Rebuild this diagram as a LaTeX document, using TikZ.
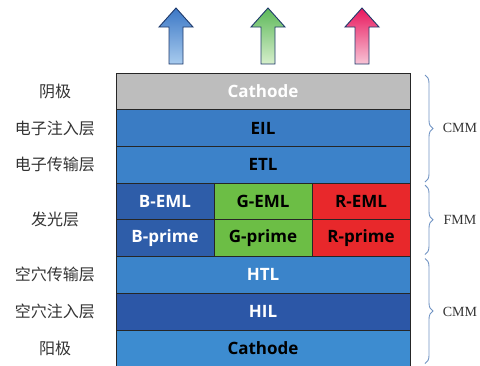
\documentclass[tikz,border=0pt]{standalone}
\usepackage{fontspec}
\setsansfont{Open Sans}
\setmainfont{Liberation Serif}
\newfontfamily\cjk{Noto Sans CJK SC}
\usepackage{xcolor}
\usetikzlibrary{positioning}
\usetikzlibrary{decorations.pathreplacing}

\definecolor{cathgray}{HTML}{BDBDBD}
\definecolor{eilblue}{HTML}{3A7CC4}
\definecolor{etlblue}{HTML}{3C82C9}
\definecolor{bblue}{HTML}{2E5DA9}
\definecolor{ggreen}{HTML}{6CBE45}
\definecolor{rred}{HTML}{E8282B}
\definecolor{htlblue}{HTML}{3B84CA}
\definecolor{hilblue}{HTML}{2C57A7}
\definecolor{anodeblue}{HTML}{3D8CD0}
\definecolor{bracecol}{HTML}{7093C3}
\definecolor{arrowedge}{HTML}{1F3A6B}
\definecolor{btop}{HTML}{3C78C6}
\definecolor{bbot}{HTML}{A8CBEE}
\definecolor{gtop}{HTML}{5DB85A}
\definecolor{gbot}{HTML}{D6EFCB}
\definecolor{rtop}{HTML}{E8175D}
\definecolor{rbot}{HTML}{F8C4D6}

\begin{document}
\begin{tikzpicture}[x=1pt,y=-1pt,node distance=0pt]
 	\tikzstyle{layer}=[draw=black!85, line width=.8pt, outer sep=0pt, inner sep=0pt,
 	   minimum width=294pt, minimum height=36.7pt,
 	   font=\sffamily\bfseries\fontsize{17}{17}\selectfont]
 	\tikzstyle{cell}=[layer, minimum width=98pt]
 	\tikzstyle{zh}=[text=black!80, font=\cjk\fontsize{16}{16}\selectfont]
 	\tikzstyle{tag}=[text=black!80, font=\rmfamily\fontsize{14}{14}\selectfont]
 	\tikzstyle{brace}=[draw=bracecol, line width=.9pt, decorate, decoration={brace, amplitude=8pt}]
 	\useasboundingbox (0,0) rectangle (480,365);

 	% layer stack
 	\node[layer, fill=cathgray, text=white] (cath) at (263,91.35) {Cathode};
 	\node[layer, fill=eilblue]  (eil) [below=of cath] {EIL};
 	\node[layer, fill=etlblue]  (etl) [below=of eil] {ETL};
 	\node[cell, fill=ggreen]    (geml) [below=of etl] {G-EML};
 	\node[cell, fill=bblue, text=white] (beml) [left=of geml] {B-EML};
 	\node[cell, fill=rred]      (reml) [right=of geml] {R-EML};
 	\node[cell, fill=ggreen]    (gprime) [below=of geml] {G-prime};
 	\node[cell, fill=bblue, text=white] (bprime) [left=of gprime] {B-prime};
 	\node[cell, fill=rred]      (rprime) [right=of gprime] {R-prime};
 	\node[layer, fill=htlblue, text=white] (htl) [below=of gprime] {HTL};
 	\node[layer, fill=hilblue, text=white] (hil) [below=of htl] {HIL};
 	\node[layer, fill=anodeblue] (anode) [below=of hil] {Cathode};

 	% emitted light
 	\foreach \x/\ct/\cb in {176/btop/bbot, 268/gtop/gbot, 362/rtop/rbot}{
 	  \shade[draw=arrowedge, line width=.9pt, line join=miter, top color=\ct, bottom color=\cb]
 	    (\x,8) -- (\x+17,27) -- (\x+7,27) -- (\x+7,64) -- (\x-7,64) -- (\x-7,27) -- (\x-17,27) -- cycle;
 	}

 	% chinese labels
 	\coordinate (lx) at (55,0);
 	\node[zh] (l1) at (lx |- cath) {阴极};
 	\node[zh] (l2) at (lx |- eil) {电子注入层};
 	\node[zh] (l3) at (lx |- etl) {电子传输层};
 	\node[zh] (l4) at (lx |- geml.south) {发光层};
 	\node[zh] (l5) at (lx |- htl) {空穴传输层};
 	\node[zh] (l6) at (lx |- hil) {空穴注入层};
 	\node[zh] (l7) at (lx |- anode) {阳极};

 	% braces
 	\draw[brace] ([xshift=15pt,yshift=-2pt]cath.north east) -- ([xshift=15pt,yshift=1pt]etl.south east);
 	\draw[brace] ([xshift=15pt,yshift=-2pt]reml.north east) -- ([xshift=15pt,yshift=2pt]rprime.south east);
 	\draw[brace] ([xshift=15pt,yshift=-2pt]htl.north east) -- ([xshift=15pt,yshift=3pt]anode.south east);
 	\node[tag] (t1) at ([xshift=50pt]eil.east) {CMM};
 	\node[tag] (t2) at ([xshift=50pt]reml.south east) {FMM};
 	\node[tag] (t3) at ([xshift=50pt]hil.east) {CMM};
\end{tikzpicture}
\end{document}
